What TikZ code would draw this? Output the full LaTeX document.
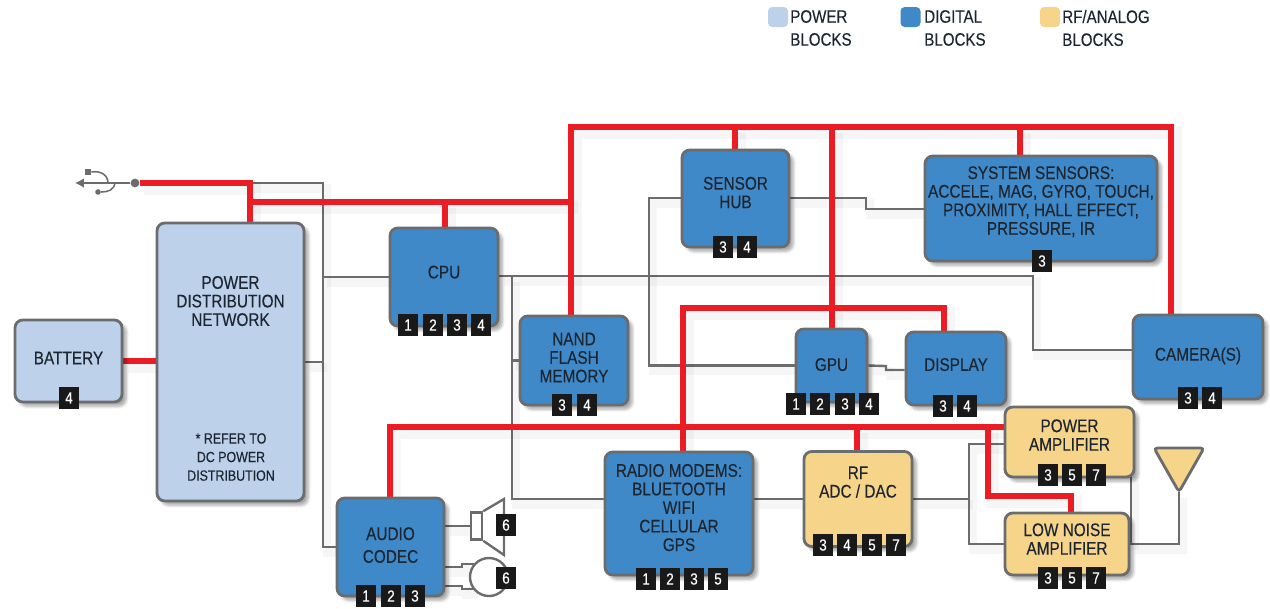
\documentclass[tikz,border=0pt]{standalone}
\usepackage{fontspec}
\setmainfont[FakeStretch=0.84,FakeBold=0.25]{Liberation Sans}
\usepackage{xcolor}
\usetikzlibrary{arrows.meta,positioning,backgrounds,calc,shadows.blur}

\definecolor{powerblue}{HTML}{BDD1EA}
\definecolor{digiblue}{HTML}{3F89C9}
\definecolor{rfsand}{HTML}{F6D48A}
\definecolor{edgegray}{HTML}{6A6C6E}
\definecolor{railred}{HTML}{EC1C24}
\definecolor{inkdark}{HTML}{1D2630}

\begin{document}
\begin{tikzpicture}[x=0.025cm, y=-0.025cm,
  box/.style    = {rectangle, draw=edgegray, line width=2pt, rounded corners=5.5pt,
                   inner sep=0pt, align=center, text=inkdark,
                   font=\fontsize{13}{13.2}\selectfont,
                   blur shadow={shadow xshift=3pt, shadow yshift=-3pt,
                                shadow blur steps=6, shadow opacity=35}},
  size/.style 2 args = {minimum width=#1*0.025cm, minimum height=#2*0.025cm},
  lift/.style   = {text depth=#1*0.05cm},
  power/.style  = {box, fill=powerblue},
  digital/.style= {box, fill=digiblue},
  rfblock/.style= {box, fill=rfsand},
  tag/.style    = {rectangle, fill=black!90, text=white, inner sep=0pt,
                   minimum width=0.5cm, minimum height=0.53cm,
                   font=\fontsize{11.5}{12}\selectfont},
  swatch/.style = {rectangle, rounded corners=3pt, inner sep=0pt,
                   minimum width=0.5cm, minimum height=0.5cm},
  legend/.style = {anchor=west, align=left, inner sep=0pt, text=inkdark,
                   font=\fontsize{12.8}{16.3}\selectfont},
  wireshade/.style = {preaction={draw=black, draw opacity=0.035, line width=#1,
                      transform canvas={xshift=3pt, yshift=-4pt}}},
  rail/.style   = {draw=railred, line width=4.4pt, wireshade=9pt},
  sig/.style    = {draw=edgegray, line width=1.7pt, wireshade=6pt},
  part/.style   = {draw=edgegray, line width=1.7pt, fill=white},
  note/.style   = {align=center, inner sep=0pt, text=inkdark,
                   font=\fontsize{10.5}{13.2}\selectfont}
]
\useasboundingbox (0,0) rectangle (1270,608);

% Legend
\node[swatch, fill=powerblue] (keypower) at (778,17) {};
\node[legend] (keypowertxt) at (790,28) {POWER\\BLOCKS};
\node[swatch, fill=digiblue] (keydigital) at (910.5,17) {};
\node[legend] (keydigitaltxt) at (924,28) {DIGITAL\\BLOCKS};
\node[swatch, fill=rfsand] (keyrf) at (1050,17) {};
\node[legend] (keyrftxt) at (1062,28) {RF/ANALOG\\BLOCKS};

% Blocks
\node[power, size={107}{82}, lift=3] (battery) at (68.5,361) {BATTERY};
\node[power, size={147}{278}, lift=61] (pdn) at (230.5,362)
     {POWER\\DISTRIBUTION\\NETWORK};
\node[note] (pdnnote) at (231,457) {* REFER TO\\DC POWER\\DISTRIBUTION};
\node[digital, size={108}{98}, lift=5] (cpu) at (444,277) {CPU};
\node[digital, size={108}{89}, lift=3] (nand) at (574,360.5) {NAND\\FLASH\\MEMORY};
\node[digital, size={107}{97}, lift=6] (hub) at (735.5,198.5) {SENSOR\\HUB};
\node[digital, size={232}{105}, lift=8] (sensors) at (1041,208.5)
     {SYSTEM SENSORS:\\ACCELE, MAG, GYRO, TOUCH,\\PROXIMITY, HALL EFFECT,\\PRESSURE, IR};
\node[digital, size={71}{73}, lift=1] (gpu) at (831.5,365.5) {GPU};
\node[digital, size={100}{73}, lift=4] (display) at (956,368.5) {DISPLAY};
\node[digital, size={130}{84}, lift=3] (camera) at (1198,357) {CAMERA(S)};
\node[digital, size={148}{123}, lift=6] (radio) at (679,513.5)
     {RADIO MODEMS:\\BLUETOOTH\\WIFI\\CELLULAR\\GPS};
\node[rfblock, size={108}{95}, lift=17] (rfadc) at (858,499) {RF\\ADC / DAC};
\node[rfblock, size={129}{70}, lift=7] (pa) at (1069.5,442) {POWER\\AMPLIFIER};
\node[rfblock, size={124}{62}, lift=5] (lna) at (1067,544) {LOW NOISE\\AMPLIFIER};
\node[digital, size={107}{98}, lift=2] (codec) at (390.5,547) {AUDIO\\[3pt]CODEC};

% Tags
\node[tag] (battery4) at (69,398) {4};
\node[tag] (cpu1) at (408,325) {1};
\node[tag] (cpu2) at (433,325) {2};
\node[tag] (cpu3) at (457,325) {3};
\node[tag] (cpu4) at (481,325) {4};
\node[tag] (nand3) at (562,405) {3};
\node[tag] (nand4) at (587,405) {4};
\node[tag] (hub3) at (723,247) {3};
\node[tag] (hub4) at (747,247) {4};
\node[tag] (sensors3) at (1042,261) {3};
\node[tag] (gpu1) at (796,404) {1};
\node[tag] (gpu2) at (820,404) {2};
\node[tag] (gpu3) at (845,404) {3};
\node[tag] (gpu4) at (869,404) {4};
\node[tag] (display3) at (943,406) {3};
\node[tag] (display4) at (967,406) {4};
\node[tag] (camera3) at (1188,398) {3};
\node[tag] (camera4) at (1212,398) {4};
\node[tag] (radio1) at (646,579) {1};
\node[tag] (radio2) at (670,579) {2};
\node[tag] (radio3) at (694,579) {3};
\node[tag] (radio5) at (718,579) {5};
\node[tag] (rfadc3) at (823,545) {3};
\node[tag] (rfadc4) at (847,545) {4};
\node[tag] (rfadc5) at (872,545) {5};
\node[tag] (rfadc7) at (896,545) {7};
\node[tag] (pa3) at (1048,475) {3};
\node[tag] (pa5) at (1072,475) {5};
\node[tag] (pa7) at (1096,475) {7};
\node[tag] (lna3) at (1048,578) {3};
\node[tag] (lna5) at (1072,578) {5};
\node[tag] (lna7) at (1096,578) {7};
\node[tag] (codec1) at (366,596) {1};
\node[tag] (codec2) at (391,596) {2};
\node[tag] (codec3) at (415,596) {3};

% Speaker and microphone
\node[part, rectangle, inner sep=0pt, minimum width=0.28cm, minimum height=0.68cm] (spk) at (476.5,526) {};
\draw[part] (spk.north east) -- (504,499) -- (504,555) -- (spk.south east);
\node[part, circle, inner sep=0pt, minimum size=0.95cm] (mic) at (489,577) {};
\node[tag] (spk6) at (506,525) {6};
\node[tag] (mic6) at (506,578) {6};

% Antenna
\coordinate (anttip) at (1179,492);
\draw[part, fill=rfsand, line width=2pt, rounded corners=2.5pt] (1154,448) -- (1204,448) -- (anttip) -- cycle;

% USB plug
\coordinate (usbtip) at (75,183);
\coordinate (usbfork) at (108,183);
\node[circle, fill=edgegray, inner sep=0pt, minimum size=0.22cm] (usbdot) at (135,183) {};
\node[rectangle, fill=edgegray, inner sep=0pt, minimum size=0.16cm] (usbsq) at (88,172) {};
\node[circle, fill=edgegray, inner sep=0pt, minimum size=0.14cm] (usbpin) at (98,192) {};

% Junctions
\coordinate (jusb) at (250,183);
\coordinate (jbus) at (250,202);
\coordinate (jgray) at (323,183);
\coordinate (jbustop) at (571,127);
\coordinate (jcamera) at (1171,127);
\coordinate (jgpu) at (832,127);
\coordinate (jradio) at (683,308);
\coordinate (jdisp) at (944,308);
\coordinate (jaudio) at (390,427);
\coordinate (jlna) at (988,496);
\coordinate (jcpu) at (512,276);
\coordinate (jhub) at (649,198);
\coordinate (jfork) at (969,499);

\begin{scope}[on background layer]
  % Signal wires
  \draw[draw=edgegray, line width=1.1pt, -{Latex[length=2.2mm,width=2.4mm]}] (usbdot) -- (usbtip);
  \draw[draw=edgegray, line width=1.1pt] (usbsq.east) to[out=10,in=90,looseness=1.1] (usbfork);
  \draw[draw=edgegray, line width=1.1pt] (115,183) to[out=-100,in=0,looseness=1.1] (usbpin);
  \draw[sig] (jusb) -- (jgray) |- (codec.west);
  \draw[sig] (jgray |- cpu.west) -- (cpu.west);
  \draw[sig] (pdn.east) -- (pdn.east -| jgray);
  \draw[sig] (cpu.east |- jcpu) -- (1033,276) -- (1033,350) -- (camera.west |- 0,350);
  \draw[sig] (jcpu) |- (radio.west |- rfadc.east);
  \draw[sig] (jcpu |- nand.west) -- (nand.west);
  \draw[sig] (hub.west |- jhub) -- (jhub) |- (gpu.west);
  \draw[sig] (hub.east |- jhub) -- (866,198) -- (866,209) -- (sensors.west |- 0,209);
  \draw[sig] (gpu.east) -- (886,366) -- (886,370) -- (display.west |- 0,370);
  \draw[sig] (radio.east |- rfadc.east) -- (rfadc.west);
  \draw[sig] (rfadc.east) -- (jfork);
  \draw[sig] (pa.west |- 0,444) -- (969,444) -- (969,544) -- (lna.west);
  \draw[sig] (lna.east) -| (anttip);
  \draw[sig] (1131,470) -- (1131,544);
  \draw[sig] (codec.east |- spk.west) -- (spk.west);
  \draw[sig] (codec.east |- 0,567) -- (462,567) -- (462,564) -- (474,564);
  \draw[sig] (codec.east |- 0,586) -- (462,586) -- (462,589) -- (474,589);
  % Power rails
  \draw[rail] (usbdot) -- (jusb) -- (jusb |- pdn.north);
  \draw[rail] (battery.east) -- (pdn.west |- battery.east);
  \draw[rail] (jbus) -- (574,202);
  \draw[rail] (445,202) -- (445,228);
  \draw[rail] (nand.north -| jbustop) -- (jbustop) -- (jcamera) -- (jcamera |- camera.north);
  \draw[rail] (735,127) -- (735,150);
  \draw[rail] (1020,127) -- (1020,156);
  \draw[rail] (jgpu) -- (jgpu |- gpu.north);
  \draw[rail] (radio.north -| jradio) -- (jradio) -- (jdisp) -- (jdisp |- display.north);
  \draw[rail] (codec.north -| jaudio) -- (jaudio) -- (pa.west |- jaudio);
  \draw[rail] (857,427) -- (857,452);
  \draw[rail] (988,427) -- (jlna) -- (1071,496) -- (1071,513);
\end{scope}

\end{tikzpicture}
\end{document}
